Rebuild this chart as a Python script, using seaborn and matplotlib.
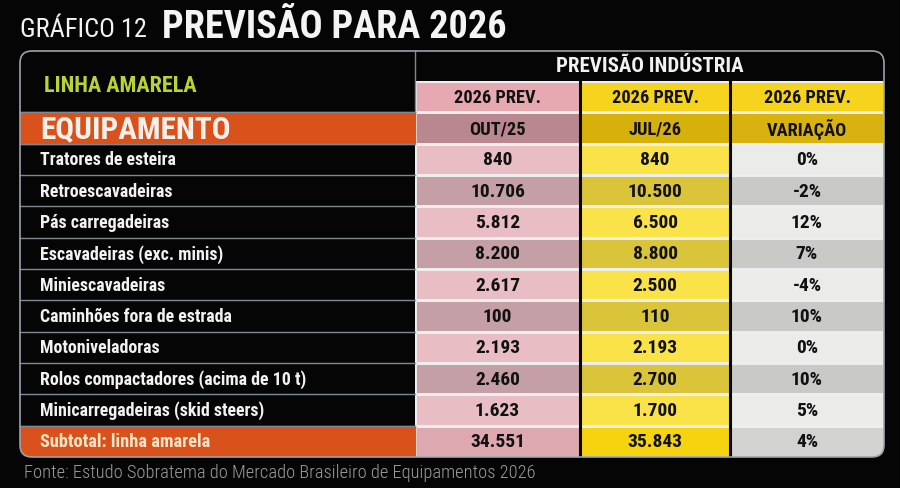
import matplotlib
matplotlib.use("Agg")
import matplotlib.pyplot as plt
import numpy as np
import seaborn as sns
from matplotlib import font_manager as fm
from matplotlib.colors import ListedColormap
from matplotlib.patches import FancyBboxPatch, Rectangle


# dados da tabela
equipamentos = ["Tratores de esteira", "Retroescavadeiras", "Pás carregadeiras",
                "Escavadeiras (exc. minis)", "Miniescavadeiras",
                "Caminhões fora de estrada", "Motoniveladoras",
                "Rolos compactadores (acima de 10 t)",
                "Minicarregadeiras (skid steers)"]
out25 = [840, 10706, 5812, 8200, 2617, 100, 2193, 2460, 1623]
jul26 = [840, 10500, 6500, 8800, 2500, 110, 2193, 2700, 1700]
variacao = [0, -2, 12, 7, -4, 10, 0, 10, 5]
subtotal_label = "Subtotal: linha amarela"
subtotal = [34551, 35843, 4]
cabecalho1 = ["2026 PREV.", "2026 PREV.", "2026 PREV."]
cabecalho2 = ["OUT/25", "JUL/26", "VARIAÇÃO"]

# fonte condensada
instaladas = set(f.name for f in fm.fontManager.ttflist)
cond = [f for f in ["Roboto Condensed", "Asap Condensed", "Barlow Semi Condensed"]
        if f in instaladas]
FONT = cond[:1] + ["DejaVu Sans"]
plt.rcParams["font.family"] = FONT


def milhar(v):
    return f"{v:,}".replace(",", ".")


# cores: cabecalho1, cabecalho2, linha clara, linha escura, subtotal
cores = [
    ["#e6a9b2", "#b9878f", "#e8bdc3", "#c49fa5", "#dea8b0"],  # rosa
    ["#f6d41e", "#d6b10c", "#f9e348", "#d9c43a", "#f5d30e"],  # amarelo
    ["#f6d41e", "#d8b20e", "#ebecea", "#c9cac8", "#d2d3d1"],  # cinza
]

colunas = [
    [milhar(v) for v in out25] + [milhar(subtotal[0])],
    [milhar(v) for v in jul26] + [milhar(subtotal[1])],
    [f"{v}%" for v in variacao] + [f"{subtotal[2]}%"],
]

W, H = 900, 489
fig = plt.figure(figsize=(9, 4.89), dpi=100, facecolor="#050505")

top, bottom = 82, 458
n_rows = 2 + len(equipamentos) + 1
rh = (bottom - top) / n_rows
xcols = [415, 580, 730, 884]

# camada de cima com textos e bordas
ax0 = fig.add_axes([0, 0, 1, 1])
ax0.set_zorder(10)
ax0.patch.set_alpha(0)
ax0.set_xlim(0, W)
ax0.set_ylim(H, 0)
ax0.axis("off")

borda = FancyBboxPatch((20, 52), 864, bottom - 52,
                       boxstyle="round,pad=0,rounding_size=12",
                       facecolor="none", edgecolor="#9aa3ad", lw=1.2, zorder=5)
ax0.add_patch(borda)

for j in range(3):
    x0, x1 = xcols[j], xcols[j + 1]
    ax = fig.add_axes([x0 / W, 1 - bottom / H, (x1 - x0) / W, (bottom - top) / H])
    codes = [0, 1] + [2 + (i % 2) for i in range(len(equipamentos))] + [4]
    codes = np.array(codes).reshape(-1, 1)
    annot = np.array([cabecalho1[j], cabecalho2[j]] + colunas[j]).reshape(-1, 1)
    sns.heatmap(codes, cmap=ListedColormap(cores[j]), vmin=-0.5, vmax=4.5,
                annot=annot, fmt="", cbar=False, linewidths=0.8,
                linecolor="#eeeeee", xticklabels=False, yticklabels=False,
                ax=ax, annot_kws={"fontsize": 14, "fontweight": "bold",
                                  "color": "#111111"})
    for t in ax.texts[:2]:
        t.set_fontsize(13.2)
    ax.collections[0].set_clip_path(borda)
    ax.set_axis_off()

ax0.text(20, 37, "GRÁFICO 12", color="#f2f2f2", fontsize=19, va="baseline")
ax0.text(162, 38, "PREVISÃO PARA 2026", color="#f4f4f4", fontsize=27.5,
         fontweight="bold", va="baseline")

ax0.text((xcols[0] + xcols[3]) / 2, 67, "PREVISÃO INDÚSTRIA", color="#f2f2f2",
         fontsize=15, fontweight="bold", ha="center", va="center")
ax0.text(44, (52 + top + rh) / 2 + 3, "LINHA AMARELA", color="#b9d432",
         fontsize=16, fontweight="bold", va="center")

# faixa laranja EQUIPAMENTO
ax0.add_patch(Rectangle((20, top + rh), xcols[0] - 20, rh, color="#d9521c", zorder=1))
ax0.text(40, top + 1.5 * rh, "EQUIPAMENTO", color="#f6f0ea", fontsize=22.5,
         fontweight="bold", va="center", zorder=3)

for i, nome in enumerate(equipamentos):
    yc = top + (2.5 + i) * rh
    ax0.text(40, yc, nome, color="#f2f2f2", fontsize=12.9, fontweight="bold",
             va="center")

# subtotal
ysub = top + (n_rows - 1) * rh
sub = Rectangle((20, ysub), xcols[0] - 20, rh, color="#d9521c", zorder=1)
ax0.add_patch(sub)
sub.set_clip_path(borda)
ax0.text(40, ysub + rh / 2, subtotal_label, color="#f8e4c6", fontsize=13.2,
         fontweight="bold", va="center", zorder=3)

# linhas
for k in range(1, n_rows):
    yk = top + k * rh
    ax0.plot([20, xcols[0]], [yk, yk], color="#7d8894", lw=1, zorder=2)
ax0.plot([xcols[0], xcols[0]], [52, top + rh], color="#7d8894", lw=1, zorder=2)
for xv in xcols[1:3]:
    ax0.plot([xv, xv], [top, bottom], color="#050505", lw=2.2, zorder=4)

ax0.text(24, 478, "Fonte: Estudo Sobratema do Mercado Brasileiro de Equipamentos 2026",
         color="#9c9c9c", fontsize=13.3, fontweight="light", va="baseline")

fig.savefig("out.png", dpi=100, facecolor=fig.get_facecolor())
